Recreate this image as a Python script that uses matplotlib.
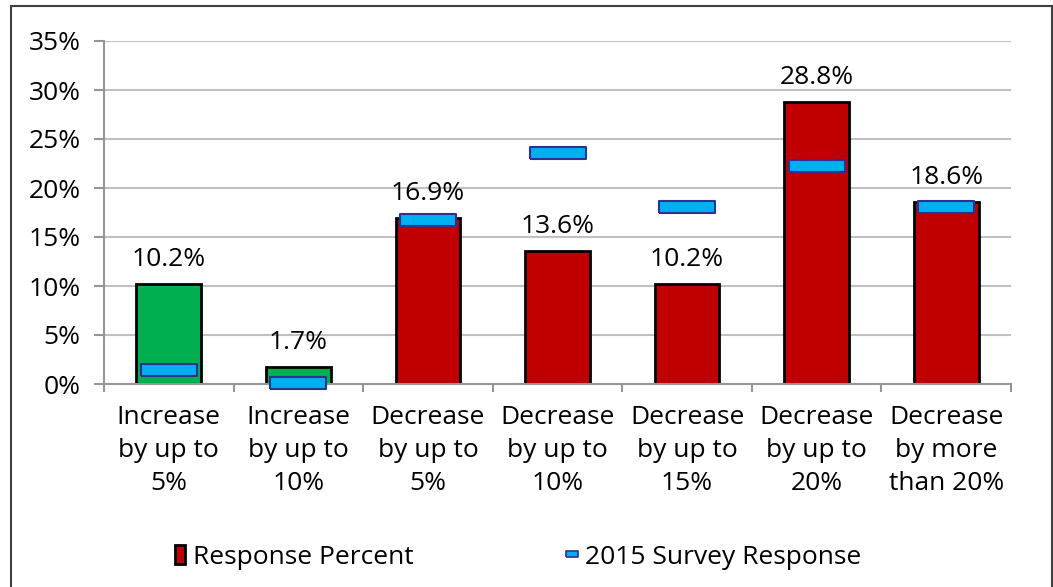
import numpy as np
import matplotlib.pyplot as plt
from matplotlib.patches import Rectangle, Patch
from matplotlib.lines import Line2D
from matplotlib.ticker import PercentFormatter

categories = ["Increase\nby up to\n5%", "Increase\nby up to\n10%", "Decrease\nby up to\n5%",
              "Decrease\nby up to\n10%", "Decrease\nby up to\n15%", "Decrease\nby up to\n20%",
              "Decrease\nby more\nthan 20%"]
response = [10.2, 1.7, 16.9, 13.6, 10.2, 28.8, 18.6]
survey_2015 = [1.4, 0.1, 16.7, 23.6, 18.1, 22.2, 18.1]
bar_colors = ["#00b050", "#00b050", "#c00000", "#c00000", "#c00000", "#c00000", "#c00000"]

plt.rcParams['font.family'] = ['Open Sans', 'DejaVu Sans']

fig = plt.figure(figsize=[10.53, 5.87], dpi=100)
ax = fig.add_axes([104/1053, 1 - 384/587, 907/1053, 343/587])

x = np.arange(len(categories))
ax.bar(x, response, width=0.5, color=bar_colors, edgecolor="black", linewidth=2, zorder=2)

rect = [(-2.35, -0.5), (2.35, -0.5), (2.35, 0.5), (-2.35, 0.5), (-2.35, -0.5)]
ax.plot(x, survey_2015, linestyle="none", marker=rect, markersize=41,
        markerfacecolor="#00b0f0", markeredgecolor="#2e3192", markeredgewidth=1.5,
        zorder=3, clip_on=False)

for xi, v in zip(x, response):
    ax.annotate(f"{v:.1f}%", (xi, v), xytext=(0, 13), textcoords="offset points",
                ha="center", va="baseline", fontsize=19)

ax.set_xlim(-0.5, len(categories) - 0.5)
ax.set_ylim(0, 35)
ax.set_yticks(np.arange(0, 36, 5))
ax.yaxis.set_major_formatter(PercentFormatter(decimals=0))
ax.set_xticks(x)
ax.set_xticklabels(categories, fontsize=19, linespacing=1.42)
ax.set_xticks(np.arange(-0.5, len(categories), 1), minor=True)
ax.tick_params(axis="x", which="major", length=0, pad=15)
ax.tick_params(axis="x", which="minor", length=6, color="#969696", width=1.5)
ax.tick_params(axis="y", length=7, color="#969696", width=1.5, labelsize=19, pad=10)

ax.grid(axis="y", color="#c0c0c0", linewidth=1.5, zorder=0)
ax.set_axisbelow(True)
for s in ["top", "right"]:
    ax.spines[s].set_visible(False)
for s in ["left", "bottom"]:
    ax.spines[s].set_color("#969696")
    ax.spines[s].set_linewidth(1.5)

leg_rect = [(-1.2, -0.5), (1.2, -0.5), (1.2, 0.5), (-1.2, 0.5), (-1.2, -0.5)]
handles = [Patch(facecolor="#c00000", edgecolor="black", linewidth=2),
           Line2D([], [], linestyle="none", marker=leg_rect, markersize=9,
                  markerfacecolor="#00b0f0", markeredgecolor="#2e3192", markeredgewidth=1.2)]
labels = ["Response Percent", "2015 Survey Response"]
fig.legend(handles, labels, loc="center", bbox_to_anchor=(0.492, 1 - 557/587),
           ncol=2, frameon=False, fontsize=19, columnspacing=5.8,
           handlelength=0.4, handleheight=0.7, handletextpad=0.3)

fig.patches.append(Rectangle((11/1053, -0.02), (1052 - 11)/1053, 1.02 - 6/587,
                             transform=fig.transFigure, fill=False,
                             edgecolor="#404040", linewidth=1.5))

fig.savefig("out.png", dpi=100)
